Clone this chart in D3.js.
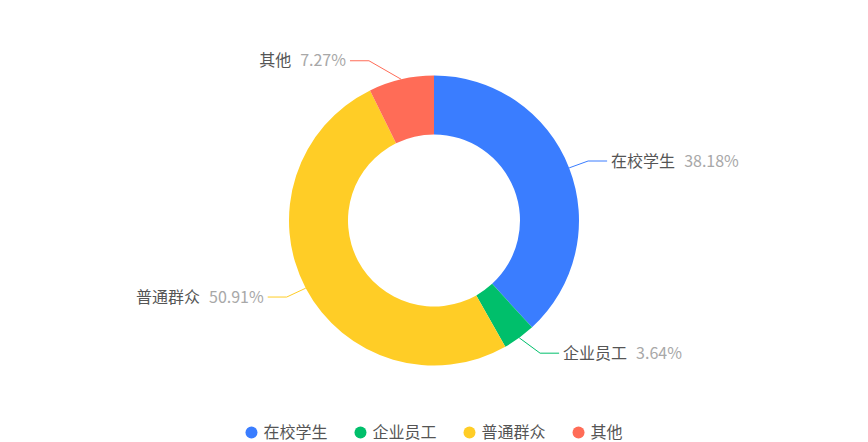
<!DOCTYPE html>
<html><head><meta charset="utf-8">
<script src="https://cdn.jsdelivr.net/npm/d3@7"></script>
<style>body{margin:0;background:#fff}svg{display:block}</style>
</head><body><svg id="c" width="868" height="442"></svg>
<script>
const categories = ["在校学生", "企业员工", "普通群众", "其他"];
const values = [21, 2, 28, 4];
const colors = ["#3A7DFF", "#00BF6B", "#FFCD26", "#FF6C57"];

const W = 868, H = 442;
const cx = 434, cy = 220.5, R = 145, R0 = 86;
const len1 = 19, len2 = 19, rB = 174;
const font = "'Noto Sans CJK SC','Microsoft YaHei',sans-serif";

const svg = d3.select("#c");
const total = d3.sum(values);
const pct = d3.format(".2%");

const pie = d3.pie().sort(null).value(d => d.v).startAngle(0).endAngle(2 * Math.PI);
const data = pie(categories.map((c, i) => ({ c, v: values[i], col: colors[i] })));
const arc = d3.arc().innerRadius(R0).outerRadius(R);

const g = svg.append("g").attr("transform", `translate(${cx},${cy})`);
g.selectAll("path.s").data(data).join("path").attr("class", "s")
  .attr("d", arc).attr("fill", d => d.data.col);

// labels
const rA = R + len1;
data.forEach(d => {
  const a = (d.startAngle + d.endAngle) / 2;
  const sx = Math.sin(a), sy = -Math.cos(a);
  const dir = sx >= 0 ? 1 : -1;
  const p0 = [R * sx, R * sy];
  const ey = rA * sy;
  const ex = dir * rA * Math.sqrt(Math.max(0, 1 - ey * ey / (rB * rB)));
  const p1 = [ex, ey];
  const p2 = [ex + dir * len2, ey];
  g.append("path")
    .attr("d", d3.line()([p0, p1, p2]))
    .attr("fill", "none").attr("stroke", d.data.col).attr("stroke-width", 1);
  const t = g.append("text")
    .attr("x", p2[0] + dir * 4).attr("y", ey).attr("dy", "0.35em")
    .attr("text-anchor", dir > 0 ? "start" : "end")
    .style("font-family", font).style("font-size", "16px");
  t.append("tspan").attr("fill", "#555555").text(d.data.c);
  t.append("tspan").attr("fill", "#A8A8A8").attr("dx", 9).text(pct(d.data.v / total));
});

// legend
const lg = svg.append("g");
const items = lg.selectAll("g").data(categories).join("g");
items.append("circle").attr("r", 6).attr("cx", 6).attr("cy", 0).attr("fill", (d, i) => colors[i]);
items.append("text").attr("x", 18).attr("dy", "0.35em").attr("fill", "#555555")
  .style("font-family", font).style("font-size", "16px").text(d => d);
const widths = [];
items.each(function () { widths.push(18 + d3.select(this).select("text").node().getComputedTextLength()); });
const gap = 27;
const totalW = d3.sum(widths) + gap * (widths.length - 1);
let x0 = cx - totalW / 2;
items.attr("transform", (d, i) => {
  const x = x0 + d3.sum(widths.slice(0, i)) + gap * i;
  return `translate(${x},432.5)`;
});
</script>
</body></html>
